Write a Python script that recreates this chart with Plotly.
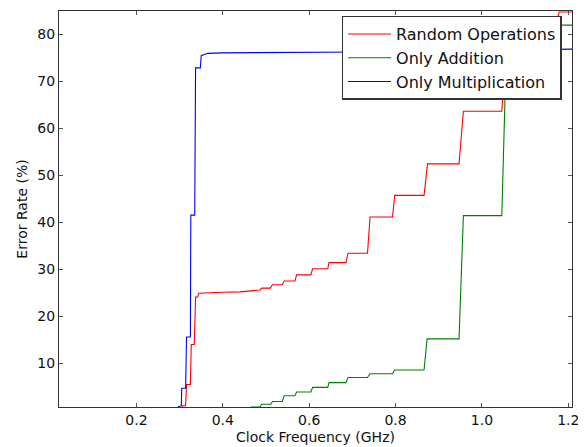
import plotly.graph_objects as go

# Random Operations (red)
rand_x = [0.02, 0.303, 0.307, 0.314, 0.316, 0.325, 0.327, 0.334, 0.337, 0.342, 0.344,
          0.36, 0.40, 0.44, 0.46, 0.486, 0.49, 0.51, 0.515, 0.538, 0.542, 0.567, 0.571,
          0.604, 0.608, 0.643, 0.646, 0.685, 0.690, 0.735, 0.741, 0.793, 0.798, 0.866,
          0.874, 0.947, 0.957, 1.046, 1.058, 1.165, 1.179, 1.2085]
rand_y = [0, 0, 1.0, 1.0, 5.5, 5.5, 14.0, 14.0, 24.1, 24.1, 24.9,
          25.0, 25.1, 25.2, 25.35, 25.6, 26.0, 26.0, 26.7, 26.7, 27.5, 27.5, 28.8,
          28.8, 30.1, 30.1, 31.4, 31.4, 33.4, 33.4, 41.1, 41.1, 45.7, 45.7,
          52.4, 52.4, 63.6, 63.6, 80.5, 80.5, 84.7, 84.7]

# Only Addition (green)
add_x = [0.02, 0.462, 0.465, 0.486, 0.49, 0.511, 0.515, 0.538, 0.542, 0.567, 0.571,
         0.604, 0.608, 0.643, 0.646, 0.685, 0.690, 0.735, 0.741, 0.793, 0.798, 0.866,
         0.873, 0.947, 0.957, 1.046, 1.058, 1.2085]
add_y = [0, 0, 0.72, 0.72, 1.3, 1.3, 1.9, 1.9, 3.1, 3.1, 3.9,
         3.9, 4.9, 4.9, 5.9, 5.9, 7.0, 7.0, 7.8, 7.8, 8.6, 8.6,
         15.2, 15.2, 41.4, 41.4, 81.9, 81.9]

# Only Multiplication (blue)
mul_x = [0.02, 0.294, 0.2965, 0.302, 0.304, 0.305, 0.314, 0.316, 0.325, 0.326, 0.335,
         0.337, 0.348, 0.350, 0.362, 0.365, 0.40, 0.50, 0.60, 0.72, 1.2085]
mul_y = [0, 0, 0.72, 1.0, 1.0, 4.7, 4.7, 15.6, 15.6, 41.5, 41.5,
         72.8, 72.8, 75.4, 75.7, 75.9, 76.0, 76.05, 76.1, 76.2, 76.8]

series_names = ["Random Operations", "Only Addition", "Only Multiplication"]
series_colors = ["#ff0000", "#008000", "#0000ff"]

fig = go.Figure()
for name, xs, ys, col in zip(series_names, [rand_x, add_x, mul_x],
                             [rand_y, add_y, mul_y], series_colors):
    fig.add_trace(go.Scatter(x=xs, y=ys, mode="lines", name=name,
                             line=dict(color=col, width=1.1)))

axis_common = dict(
    showline=True, linecolor="#333333", linewidth=1.3, mirror="ticks",
    ticks="inside", ticklen=4, tickwidth=1, tickcolor="#555555",
    showgrid=False, zeroline=False, automargin=False,
    tickfont=dict(family="DejaVu Sans", size=14, color="#111111"),
    title_font=dict(family="DejaVu Sans", size=14, color="#111111"),
)

fig.update_xaxes(range=[0.0208, 1.2085], tickvals=[0.2, 0.4, 0.6, 0.8, 1.0, 1.2],
                 ticktext=["0.2", "0.4", "0.6", "0.8", "1.0", "1.2"],
                 title_text="Clock Frequency (GHz)", title_standoff=5, **axis_common)
fig.update_yaxes(range=[0.72, 84.9], tickvals=[10, 20, 30, 40, 50, 60, 70, 80],
                 title_text="Error Rate (%)", title_standoff=6, **axis_common)

# the page body has an 8px margin, so the figure is sized/offset to compensate
fig.update_layout(
    width=578, height=439,
    margin=dict(l=51, r=14, t=3, b=40),
    paper_bgcolor="white", plot_bgcolor="white",
    font=dict(family="DejaVu Sans", color="#111111"),
    legend=dict(x=0.980, y=0.988, xanchor="right", yanchor="top",
                bgcolor="white", bordercolor="#333333", borderwidth=1.3,
                font=dict(family="DejaVu Sans", size=16, color="#111111"),
                tracegroupgap=0, itemwidth=43),
)

fig.write_html("out.html")
